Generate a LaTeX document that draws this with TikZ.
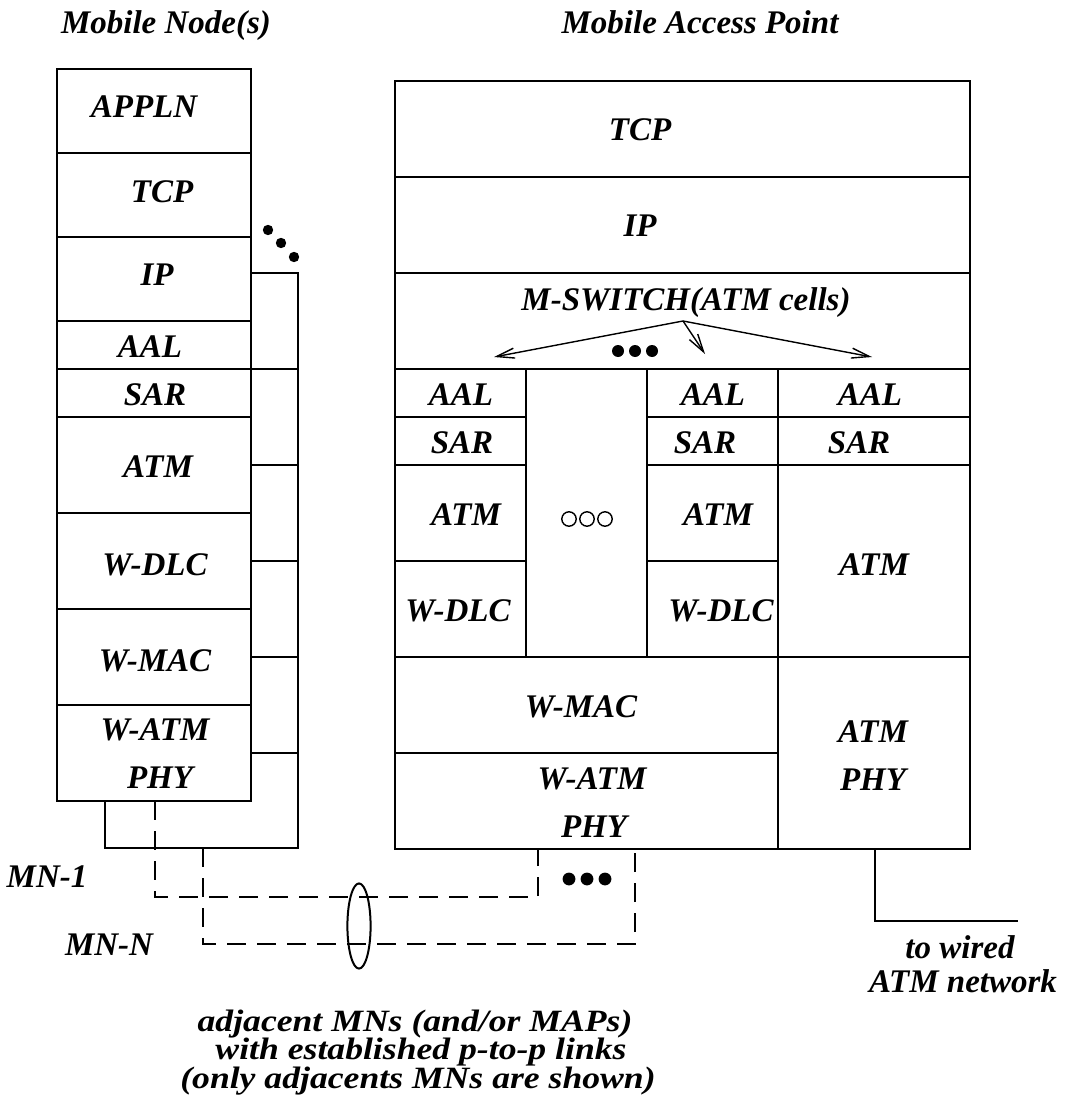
\documentclass[tikz,border=0pt]{standalone}
\usepackage{fontspec}
\setmainfont{Liberation Serif}
\newfontfamily\widefont{Liberation Serif}[FakeStretch=1.15]
\usetikzlibrary{arrows.meta,positioning}

\tikzset{
  lbl/.style={font=\fontsize{16.5}{18}\selectfont\bfseries\itshape, inner sep=0pt},
  note/.style={font=\widefont\fontsize{15.5}{17}\selectfont\bfseries\itshape, inner sep=0pt},
  thk/.style={line width=1.4pt},
  thn/.style={line width=0.7pt},
  lnk/.style={line width=1.2pt, dash pattern=on 9.5pt off 5.5pt},
}

\begin{document}
\begin{tikzpicture}[x=0.5pt,y=-0.5pt]
\useasboundingbox (0,0) rectangle (1069,1096);

% titles
\node[lbl, anchor=base] (mnTitle)  at (166,33.5) {Mobile Node(s)};
\node[lbl, anchor=base] (mapTitle) at (700,33.5) {Mobile Access Point};

% mobile node stack
\draw[thk] (57,69) rectangle (251,801);
\foreach \y in {153,237,321,369,417,513,609,705}
  \draw[thk] (57,\y) -- (251,\y);

% further mobile nodes behind
\draw[thk] (251,273) -- (298,273) -- (298,848) -- (105,848) -- (105,801);
\foreach \y in {369,465,561,657,753}
  \draw[thk] (251,\y) -- (298,\y);
\foreach \p in {(268,230),(281,243),(294,257)}
  \fill \p circle (2.6pt);

\node[lbl] (mnAppl) at (144,107) {APPLN};
\node[lbl] (mnTcp)  at (162,192) {TCP};
\node[lbl] (mnIp)   at (157,275) {IP};
\node[lbl] (mnAal)  at (150,347) {AAL};
\node[lbl] (mnSar)  at (155,395) {SAR};
\node[lbl] (mnAtm)  at (158,467) {ATM};
\node[lbl] (mnDlc)  at (155,565) {W-DLC};
\node[lbl] (mnMac)  at (155,661) {W-MAC};
\node[lbl] (mnWatm) at (155,730) {W-ATM};
\node[lbl] (mnPhy)  at (160,778) {PHY};

% mobile access point
\draw[thk] (395,81) rectangle (970,849);
\foreach \y in {177,273,369}
  \draw[thk] (395,\y) -- (970,\y);
\foreach \x in {526,647}
  \draw[thk] (\x,369) -- (\x,657);
\draw[thk] (778,369) -- (778,849);
\foreach \y in {417,465,561}
  \draw[thk] (395,\y) -- (526,\y);
\draw[thk] (647,417) -- (970,417);
\draw[thn] (647,465) -- (970,465);
\draw[thn] (647,561) -- (778,561);
\draw[thk] (395,657) -- (970,657);
\draw[thk] (395,753) -- (778,753);

\node[lbl] (mapTcp) at (640,130) {TCP};
\node[lbl] (mapIp)  at (640,226) {IP};
\node[lbl, anchor=base] (mapSw) at (686,311) {M-SWITCH(ATM cells)};

% switching to the ports
\coordinate (swO) at (683,321);
\coordinate (swL) at (494,357);
\coordinate (swM) at (705,354);
\coordinate (swR) at (872,357);
\foreach \e in {swL,swM,swR}
  \draw[thn,-{Straight Barb[length=9pt,width=5pt]}] (swO) -- (\e);
\foreach \x in {618,635,652}
  \fill (\x,351) circle (3pt);

\node[lbl] (aalA) at (461,395) {AAL};
\node[lbl] (sarA) at (462,443) {SAR};
\node[lbl] (atmA) at (466,515) {ATM};
\node[lbl] (dlcA) at (458,611) {W-DLC};
\foreach \x in {569,587,605}
  \draw[thn] (\x,519) circle (3.6pt);
\node[lbl] (aalB) at (713,395) {AAL};
\node[lbl] (sarB) at (705,443) {SAR};
\node[lbl] (atmB) at (718,515) {ATM};
\node[lbl] (dlcB) at (721,611) {W-DLC};
\node[lbl] (aalC) at (870,395) {AAL};
\node[lbl] (sarC) at (859,443) {SAR};
\node[lbl] (atmC) at (874,565) {ATM};
\node[lbl] (mapMac)  at (581,707) {W-MAC};
\node[lbl] (mapWatm) at (592,779) {W-ATM};
\node[lbl] (mapWphy) at (594,827) {PHY};
\node[lbl] (mapAtm)  at (873,732) {ATM};
\node[lbl] (mapPhy)  at (873,780) {PHY};

% p-to-p links
\coordinate (mn1)  at (155,801);
\coordinate (map1) at (538,849);
\coordinate (mnN)  at (203,848);
\coordinate (mapN) at (635,849);
\draw[lnk] (mn1) -- ++(0,96) -| (map1);
\draw[lnk] (mnN) -- ++(0,96) -| (mapN);
\foreach \x in {569,587,605}
  \fill (\x,879) circle (3.2pt);
\draw[line width=1pt] (359,926) ellipse [x radius=5.8pt, y radius=21.3pt];
\node[lbl] (mn1Lbl) at (47,877) {MN-1};
\node[lbl] (mnNLbl) at (109,945) {MN-N};

% wired side
\coordinate (mapW)  at (875,849);
\coordinate (wired) at (1018,921);
\draw[thk] (mapW) |- (wired);
\node[lbl, anchor=base] (wiredA) at (960,958) {to wired};
\node[lbl, anchor=base] (wiredB) at (963,992) {ATM network};

\node[note, anchor=base] (linkA) at (415,1031) {adjacent MNs (and/or MAPs)};
\node[note, anchor=base] (linkB) at (421,1059.5) {with established p-to-p links};
\node[note, anchor=base] (linkC) at (418,1088) {(only adjacents MNs are shown)};

\end{tikzpicture}
\end{document}
